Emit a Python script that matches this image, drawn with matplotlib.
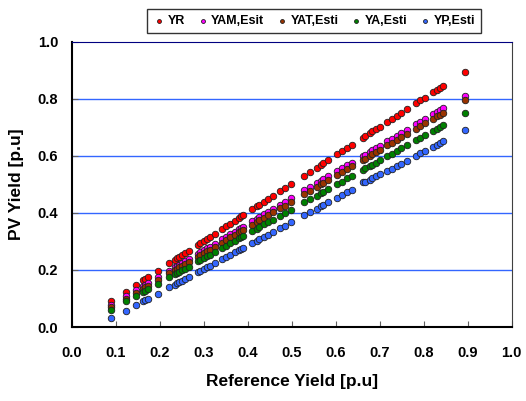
import matplotlib
matplotlib.use('Agg')
import matplotlib.pyplot as plt

# reference yield (x)
ref_yield = [0.089, 0.122, 0.145, 0.161, 0.167, 0.173, 0.195,
             0.221, 0.233, 0.238, 0.244, 0.250, 0.257, 0.265,
             0.286, 0.292, 0.300, 0.307, 0.313, 0.324,
             0.340, 0.350, 0.360, 0.370, 0.380, 0.385, 0.389,
             0.410, 0.420, 0.426, 0.437, 0.446, 0.457, 0.473, 0.484, 0.498,
             0.528, 0.541, 0.556, 0.566, 0.571, 0.583, 0.603, 0.613, 0.626, 0.636,
             0.661, 0.666, 0.677, 0.683, 0.691, 0.700,
             0.717, 0.727, 0.738, 0.749, 0.761,
             0.782, 0.792, 0.802,
             0.820, 0.830, 0.836, 0.843,
             0.893]

yr = [0.092, 0.124, 0.147, 0.164, 0.170, 0.176, 0.198,
      0.224, 0.236, 0.241, 0.247, 0.253, 0.260, 0.268,
      0.289, 0.295, 0.303, 0.310, 0.316, 0.327,
      0.343, 0.353, 0.363, 0.373, 0.383, 0.388, 0.392,
      0.413, 0.423, 0.429, 0.440, 0.449, 0.460, 0.476, 0.487, 0.501,
      0.531, 0.544, 0.559, 0.569, 0.574, 0.586, 0.606, 0.616, 0.629, 0.639,
      0.664, 0.669, 0.680, 0.686, 0.694, 0.703,
      0.720, 0.730, 0.741, 0.752, 0.764,
      0.785, 0.795, 0.805,
      0.823, 0.833, 0.839, 0.846,
      0.896]

yam = [0.077, 0.108, 0.129, 0.143, 0.149, 0.154, 0.174,
       0.198, 0.209, 0.214, 0.219, 0.225, 0.231, 0.238,
       0.257, 0.263, 0.270, 0.277, 0.282, 0.292,
       0.307, 0.316, 0.325, 0.334, 0.343, 0.348, 0.352,
       0.371, 0.380, 0.385, 0.395, 0.404, 0.414, 0.428, 0.438, 0.451,
       0.479, 0.490, 0.504, 0.513, 0.518, 0.529, 0.547, 0.556, 0.568, 0.577,
       0.600, 0.605, 0.615, 0.620, 0.628, 0.636,
       0.651, 0.660, 0.671, 0.681, 0.692,
       0.711, 0.720, 0.729,
       0.746, 0.755, 0.760, 0.767,
       0.812]

yat = [0.069, 0.098, 0.119, 0.134, 0.139, 0.145, 0.164,
       0.188, 0.199, 0.203, 0.209, 0.214, 0.221, 0.228,
       0.247, 0.252, 0.260, 0.266, 0.271, 0.281,
       0.296, 0.305, 0.314, 0.323, 0.332, 0.336, 0.340,
       0.359, 0.368, 0.374, 0.383, 0.392, 0.402, 0.416, 0.426, 0.439,
       0.466, 0.478, 0.491, 0.500, 0.505, 0.516, 0.534, 0.543, 0.555, 0.564,
       0.586, 0.591, 0.601, 0.606, 0.613, 0.622,
       0.637, 0.646, 0.656, 0.666, 0.677,
       0.696, 0.705, 0.714,
       0.730, 0.739, 0.745, 0.751,
       0.796]

ya = [0.061, 0.090, 0.109, 0.123, 0.128, 0.133, 0.152,
      0.174, 0.185, 0.189, 0.194, 0.199, 0.205, 0.212,
      0.230, 0.235, 0.242, 0.248, 0.253, 0.263,
      0.276, 0.285, 0.294, 0.302, 0.311, 0.315, 0.318,
      0.336, 0.345, 0.350, 0.360, 0.367, 0.377, 0.390, 0.400, 0.412,
      0.437, 0.449, 0.461, 0.470, 0.474, 0.485, 0.502, 0.510, 0.521, 0.530,
      0.552, 0.556, 0.565, 0.570, 0.577, 0.585,
      0.599, 0.608, 0.617, 0.627, 0.637,
      0.655, 0.664, 0.672,
      0.688, 0.696, 0.701, 0.707,
      0.750]

yp = [0.030, 0.057, 0.076, 0.090, 0.094, 0.099, 0.117,
      0.139, 0.149, 0.153, 0.158, 0.163, 0.169, 0.175,
      0.192, 0.197, 0.204, 0.210, 0.215, 0.224,
      0.237, 0.245, 0.253, 0.262, 0.270, 0.274, 0.277,
      0.294, 0.303, 0.308, 0.317, 0.324, 0.333, 0.346, 0.355, 0.367,
      0.392, 0.402, 0.415, 0.423, 0.427, 0.437, 0.453, 0.462, 0.472, 0.480,
      0.508, 0.510, 0.516, 0.521, 0.528, 0.535,
      0.547, 0.555, 0.564, 0.573, 0.583,
      0.601, 0.609, 0.617,
      0.632, 0.640, 0.645, 0.651,
      0.692]

series = [('YR', yr, '#ff0000'),
          ('YAM,Esit', yam, '#ff00ff'),
          ('YAT,Esti', yat, '#993300'),
          ('YA,Esti', ya, '#008000'),
          ('YP,Esti', yp, '#3366ff')]

plt.rcParams['font.family'] = ['Liberation Sans', 'DejaVu Sans']
plt.rcParams['font.weight'] = 'bold'

fig = plt.figure(figsize=(5.26, 4.01), dpi=100)
ax = fig.add_axes([0.137, 0.1845, 0.836, 0.711])

for name, vals, col in series:
    ax.scatter(ref_yield, vals, s=22, c=col, edgecolors='#202020',
               linewidths=0.6, label=name, zorder=3)

ax.set_xlim(0, 1.0)
ax.set_ylim(0, 1.0)
ax.set_xticks([i / 10 for i in range(11)])
ax.set_yticks([i / 5 for i in range(6)])
ax.set_xticklabels(['%.1f' % (i / 10) for i in range(11)])
ax.set_yticklabels(['%.1f' % (i / 5) for i in range(6)])
ax.tick_params(axis='x', direction='in', length=4, color='#606060',
               pad=14, labelsize=10.5)
ax.tick_params(axis='y', direction='in', length=4, color='#606060',
               pad=10, labelsize=10.5)

for yv in [0.2, 0.4, 0.6, 0.8]:
    ax.axhline(yv, color='#3366ff', lw=1.0, zorder=1)

ax.spines['left'].set_linewidth(1.5)
ax.spines['bottom'].set_linewidth(1.5)
ax.spines['top'].set_color('#000080')
ax.spines['right'].set_color('#404040')

ax.set_xlabel('Reference Yield [p.u]', fontsize=12.5, fontweight='bold', labelpad=10)
ax.set_ylabel('PV Yield [p.u]', fontsize=12.5, fontweight='bold', labelpad=10)

leg = fig.legend(loc='upper center', bbox_to_anchor=(314 / 526, 1 - 3 / 401),
                 ncol=5, fontsize=9, markerscale=0.6, handletextpad=0.2,
                 columnspacing=0.9, frameon=True, fancybox=False,
                 borderpad=0.45, handlelength=1.0)
leg.get_frame().set_edgecolor('black')
leg.get_frame().set_linewidth(1.0)

fig.savefig('out.png', dpi=100)
